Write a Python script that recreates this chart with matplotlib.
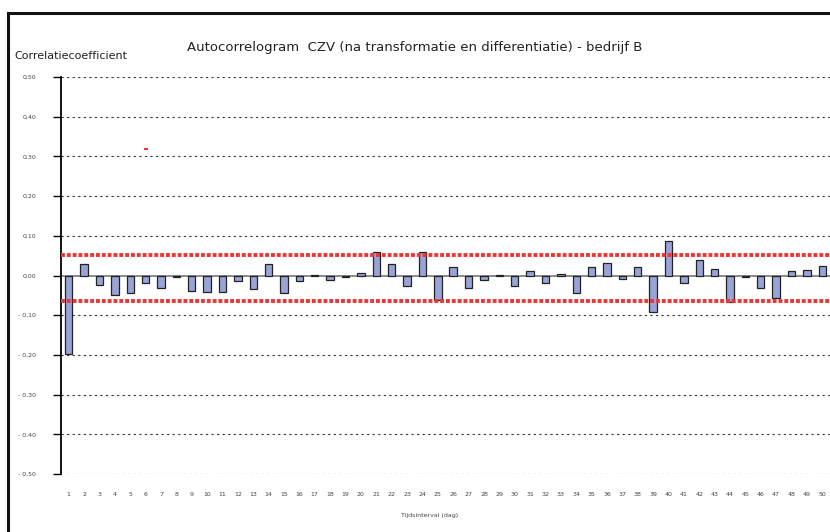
import numpy as np
import matplotlib
matplotlib.use('Agg')
import matplotlib.pyplot as plt
from matplotlib.lines import Line2D

lags = list(range(1, 51))
acf = [-0.197, 0.029, -0.024, -0.049, -0.043, -0.018, -0.031, -0.003, -0.038, -0.041,
       -0.041, -0.015, -0.034, 0.029, -0.043, -0.015, 0.002, -0.011, -0.003, 0.007,
       0.060, 0.029, -0.026, 0.060, -0.061, 0.021, -0.031, -0.011, 0.002, -0.027,
       0.012, -0.020, 0.005, -0.044, 0.021, 0.031, -0.009, 0.021, -0.093, 0.086,
       -0.018, 0.040, 0.016, -0.066, -0.003, -0.032, -0.056, 0.011, 0.014, 0.024]
upper_bound = 0.051
lower_bound = -0.063
yticks = [0.5, 0.4, 0.3, 0.2, 0.1, 0.0, -0.1, -0.2, -0.3, -0.4, -0.5]

def fmt(v):
    s = f'{abs(v):.2f}'.replace('.', ',')
    return ('- ' + s) if v < 0 else s

fig = plt.figure(figsize=(8.3, 5.32), dpi=100)
ax = fig.add_axes([61 / 830, 1 - 474 / 532, 1 - 61 / 830, (474 - 77) / 532])

# grid lines
for v in yticks:
    if v == 0:
        continue
    ax.axhline(v, color='#333333', lw=0.8, ls=(0, (2, 3)), zorder=1)
ax.axhline(0, color='#777777', lw=1.2, zorder=2)

ax.bar(lags, acf, width=0.48, color='#9aa3d6', edgecolor='#222222', lw=0.9, zorder=3)

# red confidence bands
xs = np.array([0.5, 50.5])
for b in (upper_bound, lower_bound):
    ax.plot(xs, [b, b], color='#f03434', lw=2.8, ls=(0, (1.0, 0.5)), zorder=4)

# stray red mark
ax.plot([6], [0.318], marker='_', color='#ee3333', ms=3, mew=1.5, zorder=4)

ax.set_xlim(0.5, 50.5)
ax.set_ylim(-0.5, 0.5)
ax.set_yticks(yticks)
ax.set_yticklabels([fmt(v) for v in yticks], fontsize=4.5, color='#444444')
ax.set_xticks(lags)
ax.set_xticklabels([str(l) for l in lags], fontsize=4.5, color='#444444')
ax.tick_params(axis='x', length=0, pad=13)
ax.tick_params(axis='y', length=6, width=1, direction='out', pad=12)
for s in ('top', 'right', 'bottom'):
    ax.spines[s].set_visible(False)
ax.spines['left'].set_linewidth(1.3)
ax.patch.set_alpha(0)

fig.text(415 / 830, 1 - 48 / 532, 'Autocorrelogram  CZV (na transformatie en differentiatie) - bedrijf B',
         ha='center', va='center', fontsize=9.5, color='#222222')
fig.text(14 / 830, 1 - 56 / 532, 'Correlatiecoefficient', ha='left', va='center',
         fontsize=8, color='#222222')
fig.text(430 / 830, 1 - 516 / 532, 'Tijdsinterval (dag)', ha='center', va='center',
         fontsize=4.5, color='#444444')

# outer frame (top and left edges)
fig.add_artist(Line2D([8 / 830, 8 / 830], [0, 1 - 13 / 532], transform=fig.transFigure,
                      color='#111111', lw=2.2))
fig.add_artist(Line2D([8 / 830, 1], [1 - 13 / 532, 1 - 13 / 532], transform=fig.transFigure,
                      color='#111111', lw=2.2))

fig.savefig('out.png', dpi=100)
